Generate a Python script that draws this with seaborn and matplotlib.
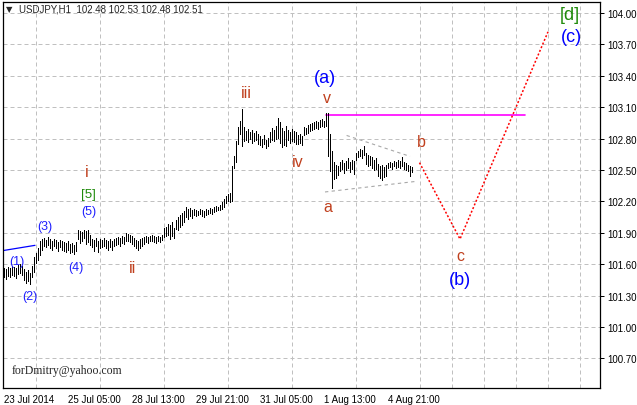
import matplotlib
matplotlib.use("Agg")
import numpy as np
import pandas as pd
import matplotlib.pyplot as plt
import seaborn as sns

# hourly bars (one bar every 2 px)
highs = [
    101.56, 101.55, 101.57, 101.56, 101.58, 101.57, 101.56, 101.59, 101.60, 101.58,
    101.55, 101.53, 101.54, 101.52, 101.58, 101.67, 101.71, 101.75, 101.82, 101.84,
    101.85, 101.83, 101.86, 101.84, 101.82, 101.84, 101.83, 101.81, 101.83, 101.82,
    101.81, 101.80, 101.82, 101.79, 101.80, 101.78, 101.81, 101.93, 101.92, 101.91,
    101.93, 101.92, 101.93, 101.88, 101.84, 101.83, 101.85, 101.82, 101.84, 101.83,
    101.85, 101.83, 101.82, 101.84, 101.82, 101.84, 101.85, 101.86, 101.85, 101.87,
    101.86, 101.90, 101.89, 101.88, 101.87, 101.85, 101.83, 101.82, 101.84, 101.85,
    101.86, 101.87, 101.86, 101.87, 101.88, 101.87, 101.86, 101.87, 101.86, 101.88,
    101.95, 101.96, 101.98, 101.97, 102.00, 101.95, 102.02, 102.05, 102.07, 102.09,
    102.11, 102.15, 102.13, 102.14, 102.12, 102.13, 102.12, 102.11, 102.13, 102.12,
    102.11, 102.13, 102.12, 102.14, 102.13, 102.15, 102.16, 102.15, 102.17, 102.19,
    102.22, 102.25, 102.27, 102.28, 102.54, 102.63, 102.78, 102.91, 102.97, 103.08,
    102.91, 102.87, 102.89, 102.86, 102.88, 102.85, 102.87, 102.84, 102.82, 102.80,
    102.83, 102.79, 102.81, 102.86, 102.90, 102.88, 102.92, 103.00, 102.96, 102.90,
    102.87, 102.92, 102.88, 102.86, 102.89, 102.87, 102.86, 102.83, 102.84, 102.82,
    102.91, 102.90, 102.93, 102.94, 102.95, 102.96, 102.97, 102.96, 102.98, 102.99,
    102.97, 103.04, 103.04, 102.84, 102.68, 102.58, 102.55, 102.54, 102.58, 102.60,
    102.57, 102.59, 102.61, 102.58, 102.60, 102.59, 102.66, 102.68, 102.70, 102.69,
    102.73, 102.66, 102.64, 102.63, 102.62, 102.60, 102.61, 102.56, 102.54, 102.55,
    102.53, 102.55, 102.57, 102.58, 102.57, 102.59, 102.58, 102.60, 102.59, 102.62,
    102.58, 102.57, 102.55, 102.54, 102.53,
]
lows = [
    101.48, 101.46, 101.49, 101.48, 101.50, 101.49, 101.47, 101.51, 101.52, 101.50,
    101.45, 101.42, 101.44, 101.41, 101.48, 101.53, 101.61, 101.64, 101.69, 101.74,
    101.77, 101.76, 101.78, 101.75, 101.74, 101.77, 101.75, 101.73, 101.76, 101.74,
    101.73, 101.72, 101.74, 101.71, 101.72, 101.70, 101.73, 101.84, 101.80, 101.82,
    101.85, 101.79, 101.81, 101.78, 101.76, 101.73, 101.77, 101.72, 101.75, 101.76,
    101.77, 101.75, 101.74, 101.76, 101.74, 101.77, 101.78, 101.79, 101.77, 101.80,
    101.79, 101.82, 101.82, 101.81, 101.79, 101.77, 101.75, 101.74, 101.75, 101.77,
    101.79, 101.81, 101.80, 101.82, 101.82, 101.81, 101.80, 101.82, 101.81, 101.83,
    101.86, 101.87, 101.88, 101.84, 101.87, 101.85, 101.94, 101.93, 101.96, 101.97,
    102.00, 102.05, 102.03, 102.06, 102.04, 102.07, 102.06, 102.07, 102.08, 102.06,
    102.05, 102.07, 102.08, 102.09, 102.08, 102.10, 102.11, 102.12, 102.12, 102.13,
    102.15, 102.18, 102.20, 102.19, 102.20, 102.52, 102.58, 102.75, 102.84, 102.73,
    102.78, 102.79, 102.77, 102.80, 102.76, 102.78, 102.79, 102.75, 102.74, 102.72,
    102.75, 102.71, 102.73, 102.77, 102.79, 102.78, 102.80, 102.81, 102.76, 102.72,
    102.74, 102.73, 102.79, 102.76, 102.78, 102.77, 102.75, 102.75, 102.76, 102.74,
    102.83, 102.84, 102.85, 102.87, 102.88, 102.89, 102.90, 102.89, 102.91, 102.92,
    102.91, 102.92, 102.63, 102.49, 102.33, 102.41, 102.42, 102.45, 102.49, 102.51,
    102.47, 102.50, 102.52, 102.48, 102.51, 102.46, 102.60, 102.62, 102.63, 102.61,
    102.64, 102.56, 102.54, 102.55, 102.52, 102.50, 102.51, 102.44, 102.42, 102.40,
    102.43, 102.44, 102.52, 102.53, 102.51, 102.54, 102.52, 102.53, 102.52, 102.54,
    102.51, 102.50, 102.49, 102.44, 102.48,
]

date_ticks = [0, 32, 64, 96, 128, 160, 192]
date_labels = ["23 Jul 2014", "25 Jul 05:00", "28 Jul 13:00", "29 Jul 21:00",
               "31 Jul 05:00", "1 Aug 13:00", "4 Aug 21:00"]
price_ticks = [100.70, 101.00, 101.30, 101.60, 101.90, 102.20, 102.50,
               102.80, 103.10, 103.40, 103.70, 104.00]

# drawn objects (bar index, price)
blue_line_x = [-0.5, 15.5]
blue_line_y = [101.73, 101.78]
level_x = [161, 260.5]
level_y = [103.03, 103.03]
tri_top_x = [171.3, 203]
tri_top_y = [102.83, 102.63]
tri_bot_x = [160.5, 205.5]
tri_bot_y = [102.29, 102.39]
proj_x = [207.75, 228, 272]
proj_y = [102.57, 101.84, 103.82]

# wave marks
wave_text = ["(1)", "(2)", "(3)", "(4)", "(5)", "[5]", "i", "ii", "iii", "iv", "v",
             "(a)", "a", "b", "c", "(b)", "(c)", "[d]"]
wave_bar = [6.5, 13, 20.5, 36, 42.5, 42, 41.5, 64.5, 121, 147, 161.5,
            160.5, 162, 208.5, 228, 228, 283.5, 283]
wave_price = [101.63, 101.30, 101.965, 101.57, 102.11, 102.27, 102.49, 101.57, 103.236,
              102.58, 103.19, 103.38, 102.15, 102.77, 101.68, 101.45, 103.78, 103.99]
wave_kind = ["minor", "minor", "minor", "minor", "minor", "green", "roman", "roman", "roman",
             "roman", "roman", "major", "roman", "roman", "roman", "major", "major", "greenbig"]

bars = pd.DataFrame({"bar": np.arange(len(highs)), "high": highs, "low": lows})

sns.set_theme(style="white")
plt.rcParams["font.family"] = ["Liberation Sans", "DejaVu Sans"]

W, H = 637, 406
fig = plt.figure(figsize=(W / 100, H / 100), dpi=100)
ax = fig.add_axes([3 / W, 17 / H, 597 / W, 386 / H])
ax.set_facecolor("white")

ax.vlines(bars["bar"], bars["low"], bars["high"], color="black", lw=0.72,
          antialiased=False, zorder=3)

sns.lineplot(x=blue_line_x, y=blue_line_y, color="#0000ff", lw=0.9, ax=ax)
sns.lineplot(x=level_x, y=level_y, color="#ff00ff", lw=1.2, ax=ax)
sns.lineplot(x=tri_top_x, y=tri_top_y, color="#a8a8a8", lw=0.8,
             linestyle=(0, (3, 3)), ax=ax)
sns.lineplot(x=tri_bot_x, y=tri_bot_y, color="#a8a8a8", lw=0.8,
             linestyle=(0, (3, 3)), ax=ax)
sns.lineplot(x=proj_x, y=proj_y, color="#ff0000", lw=1.1, sort=False,
             linestyle=(0, (1.3, 1.3)), ax=ax)

styles = {
    "minor": dict(color="#2020ff", fontsize=9),
    "green": dict(color="#1f8a0a", fontsize=9.5),
    "roman": dict(color="#c0401e", fontsize=11.5),
    "major": dict(color="#0000ff", fontsize=13),
    "greenbig": dict(color="#1f8a0a", fontsize=13),
}
for t, bx, py, k in zip(wave_text, wave_bar, wave_price, wave_kind):
    ax.text(bx, py, t, ha="center", va="center", **styles[k], zorder=4)

ax.set_xlim(-0.5, 298)
ax.set_ylim(100.417, 104.105)

ax.set_xticks(date_ticks, labels=date_labels)
ax.set_xticks(np.arange(0, 297, 16), minor=True)
for lab in ax.get_xticklabels():
    lab.set_horizontalalignment("left")
ax.yaxis.tick_right()
ax.set_yticks(price_ticks, labels=[f"{p:.2f}" for p in price_ticks])
ax.tick_params(axis="both", which="major", direction="out", length=3, width=0.72,
               color="black", labelsize=7, labelcolor="black", pad=1.5)
ax.tick_params(axis="x", which="minor", length=0)
ax.tick_params(axis="y", which="major", pad=2)

grid_kw = dict(color="#c0c0c0", lw=0.72, linestyle=(0, (4, 3)))
ax.grid(False)
ax.xaxis.grid(True, which="minor", **grid_kw)
ax.yaxis.grid(True, which="major", **grid_kw)
ax.set_axisbelow(True)

for sp in ax.spines.values():
    sp.set_color("black")
    sp.set_linewidth(0.9)

ax.set_xlabel("")
ax.set_ylabel("")

fig.text(6 / W, 1 - 10 / H, "▼", fontsize=6, va="center", ha="left",
         family=["DejaVu Sans"])
fig.text(19 / W, 1 - 10 / H, "USDJPY,H1  102.48 102.53 102.48 102.51",
         fontsize=7, va="center", ha="left")
fig.text(12 / W, 1 - 371 / H, "forDmitry@yahoo.com", fontsize=8.5,
         va="center", ha="left", family=["Liberation Serif"])

fig.savefig("out.png", dpi=100, facecolor="white")
